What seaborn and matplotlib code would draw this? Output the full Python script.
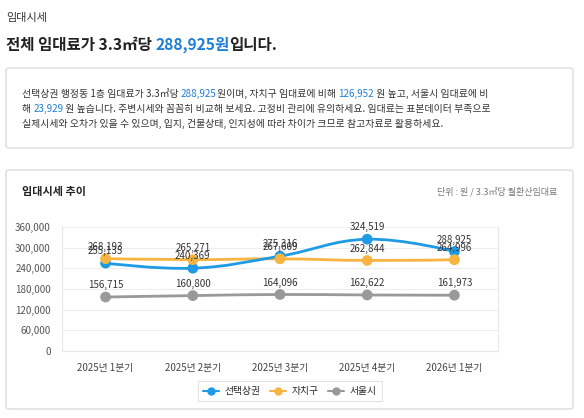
import numpy as np
import pandas as pd
import matplotlib
matplotlib.use("Agg")
import matplotlib.pyplot as plt
import seaborn as sns
from matplotlib.path import Path
from matplotlib.patches import PathPatch, FancyBboxPatch
from matplotlib.lines import Line2D

# data
quarters = ["2025년 1분기", "2025년 2분기", "2025년 3분기", "2025년 4분기", "2026년 1분기"]
series_names = ["선택상권", "자치구", "서울시"]
sel_area = [255135, 240369, 275316, 324519, 288925]
district = [268193, 265271, 267609, 262844, 264996]
seoul = [156715, 160800, 164096, 162622, 161973]
y_ticks = [0, 60000, 120000, 180000, 240000, 300000, 360000]
colors = {"선택상권": "#1f9be6", "자치구": "#f7b441", "서울시": "#999999"}

df = pd.DataFrame({
    "quarter": quarters * 3,
    "series": np.repeat(series_names, len(quarters)),
    "value": sel_area + district + seoul,
})
df["xi"] = df.groupby("series").cumcount()

sns.set_style("white")
plt.rcParams["font.family"] = ["Noto Sans CJK KR", "DejaVu Sans"]

W, H = 584, 418
fig = plt.figure(figsize=(W / 100, H / 100), dpi=100)
fig.patch.set_facecolor("white")


def fx(px):
    return px / W


def fy(py):
    return 1 - py / H


# panel boxes
for (x0, y0, x1, y1) in [(6, 68, 573, 148), (6, 170, 573, 409)]:
    fig.patches.append(FancyBboxPatch((fx(x0), fy(y1)), fx(x1 - x0), (y1 - y0) / H,
                                      boxstyle="round,pad=0,rounding_size=0.006",
                                      transform=fig.transFigure, facecolor="white",
                                      edgecolor="#dcdcdc", linewidth=1.0, zorder=-1))

renderer = fig.canvas.get_renderer()


def rich_line(x_px, y_px, parts, size, weight="normal"):
    x = x_px
    for txt, col in parts:
        t = fig.text(fx(x), fy(y_px), txt, color=col, fontsize=size, weight=weight,
                     va="center", ha="left")
        bb = t.get_window_extent(renderer=renderer)
        x += bb.width
    return x


blue = "#1f7fd6"
dark = "#222222"
fig.text(fx(6), fy(18), "임대시세", fontsize=8, color="#333333", va="center")
rich_line(6, 45, [("전체 임대료가 3.3㎡당 ", dark), ("288,925원", blue), ("입니다.", dark)],
          11.2, weight="bold")

body = "#333333"
rich_line(22, 94, [("선택상권 행정동 1층 임대료가 3.3㎡당 ", body), ("288,925", blue),
                   ("원이며, 자치구 임대료에 비해 ", body), ("126,952", blue),
                   (" 원 높고, 서울시 임대료에 비", body)], 7.1)
rich_line(22, 109, [("해 ", body), ("23,929", blue),
                    (" 원 높습니다. 주변시세와 꼼꼼히 비교해 보세요. 고정비 관리에 유의하세요. 임대료는 표본데이터 부족으로", body)], 7.1)
rich_line(22, 124, [("실제시세와 오차가 있을 수 있으며, 입지, 건물상태, 인지성에 따라 차이가 크므로 참고자료로 활용하세요.", body)], 7.1)

fig.text(fx(22), fy(192), "임대시세 추이", fontsize=8, color="#222222", weight="bold", va="center")
fig.text(fx(557), fy(192), "단위 : 원 / 3.3㎡당 월환산임대료", fontsize=6.5, color="#777777",
         va="center", ha="right")

# chart axes
ax = fig.add_axes([fx(62), fy(351), fx(498 - 62), (351 - 227) / H])
ax.set_facecolor("none")


def smooth_path(xs, ys, k=1.5):
    # Bezier spline through the data points (Highcharts-like)
    verts = [(xs[0], ys[0])]
    codes = [Path.MOVETO]
    n = len(xs)
    for i in range(1, n):
        x0, y0 = xs[i - 1], ys[i - 1]
        x1, y1 = xs[i], ys[i]
        if i - 1 == 0:
            c1 = (x0, y0)
        else:
            xp, yp = xs[i - 2], ys[i - 2]
            lx, ly = (k * x0 + xp) / (k + 1), (k * y0 + yp) / (k + 1)
            rx, ry = (k * x0 + x1) / (k + 1), (k * y0 + y1) / (k + 1)
            cor = 0 if rx == lx else (ry - ly) * (rx - x0) / (rx - lx) + y0 - ry
            c1 = (rx, ry + cor)
        if i == n - 1:
            c2 = (x1, y1)
        else:
            xn, yn = xs[i + 1], ys[i + 1]
            lx, ly = (k * x1 + x0) / (k + 1), (k * y1 + y0) / (k + 1)
            rx, ry = (k * x1 + xn) / (k + 1), (k * y1 + yn) / (k + 1)
            cor = 0 if rx == lx else (ry - ly) * (rx - x1) / (rx - lx) + y1 - ry
            c2 = (lx, ly + cor)
        verts += [c1, c2, (x1, y1)]
        codes += [Path.CURVE4] * 3
    return Path(verts, codes)


for name in ["서울시", "자치구", "선택상권"]:
    sub = df[df["series"] == name]
    p = smooth_path(sub["xi"].tolist(), sub["value"].tolist())
    ax.add_patch(PathPatch(p, facecolor="none", edgecolor=colors[name], linewidth=2.0,
                           zorder=3, capstyle="round", joinstyle="round"))

sns.scatterplot(data=df, x="xi", y="value", hue="series", palette=colors, s=60,
                edgecolor="none", ax=ax, legend=False, zorder=4)
ax.set_xlabel("")
ax.set_ylabel("")
ax.set_xlim(-0.5, len(quarters) - 0.5)
ax.set_ylim(0, 360000)
ax.set_yticks(y_ticks)
ax.set_yticklabels([f"{v:,}" for v in y_ticks], fontsize=7, color="#555555")
ax.set_xticks(range(len(quarters)))
ax.set_xticklabels(quarters, fontsize=7, color="#444444")
ax.tick_params(axis="both", length=0, pad=8)
ax.tick_params(axis="x", pad=9)
ax.grid(axis="y", color="#eeeeee", linewidth=0.8, zorder=0)
ax.set_axisbelow(True)
ax.spines["top"].set_visible(False)
for s in ["left", "right", "bottom"]:
    ax.spines[s].set_color("#e8e8e8")
    ax.spines[s].set_linewidth(0.8)

for _, r in df.iterrows():
    ax.annotate(f"{r['value']:,}", (r["xi"], r["value"]), xytext=(0, 5),
                textcoords="offset points", ha="center", va="bottom", fontsize=7,
                color="#333333", annotation_clip=False, zorder=5)

handles = [Line2D([], [], color=colors[n], marker="o", markersize=5, linewidth=1.5)
           for n in series_names]
leg = fig.legend(handles, series_names, loc="center", bbox_to_anchor=(fx(290), fy(391)),
                 ncol=3, fontsize=7, frameon=True, handlelength=1.6, handletextpad=0.6,
                 columnspacing=1.0, borderpad=0.5, fancybox=False)
leg.get_frame().set_edgecolor("#dddddd")
leg.get_frame().set_linewidth(0.8)

fig.savefig("out.png", dpi=100, facecolor="white")
